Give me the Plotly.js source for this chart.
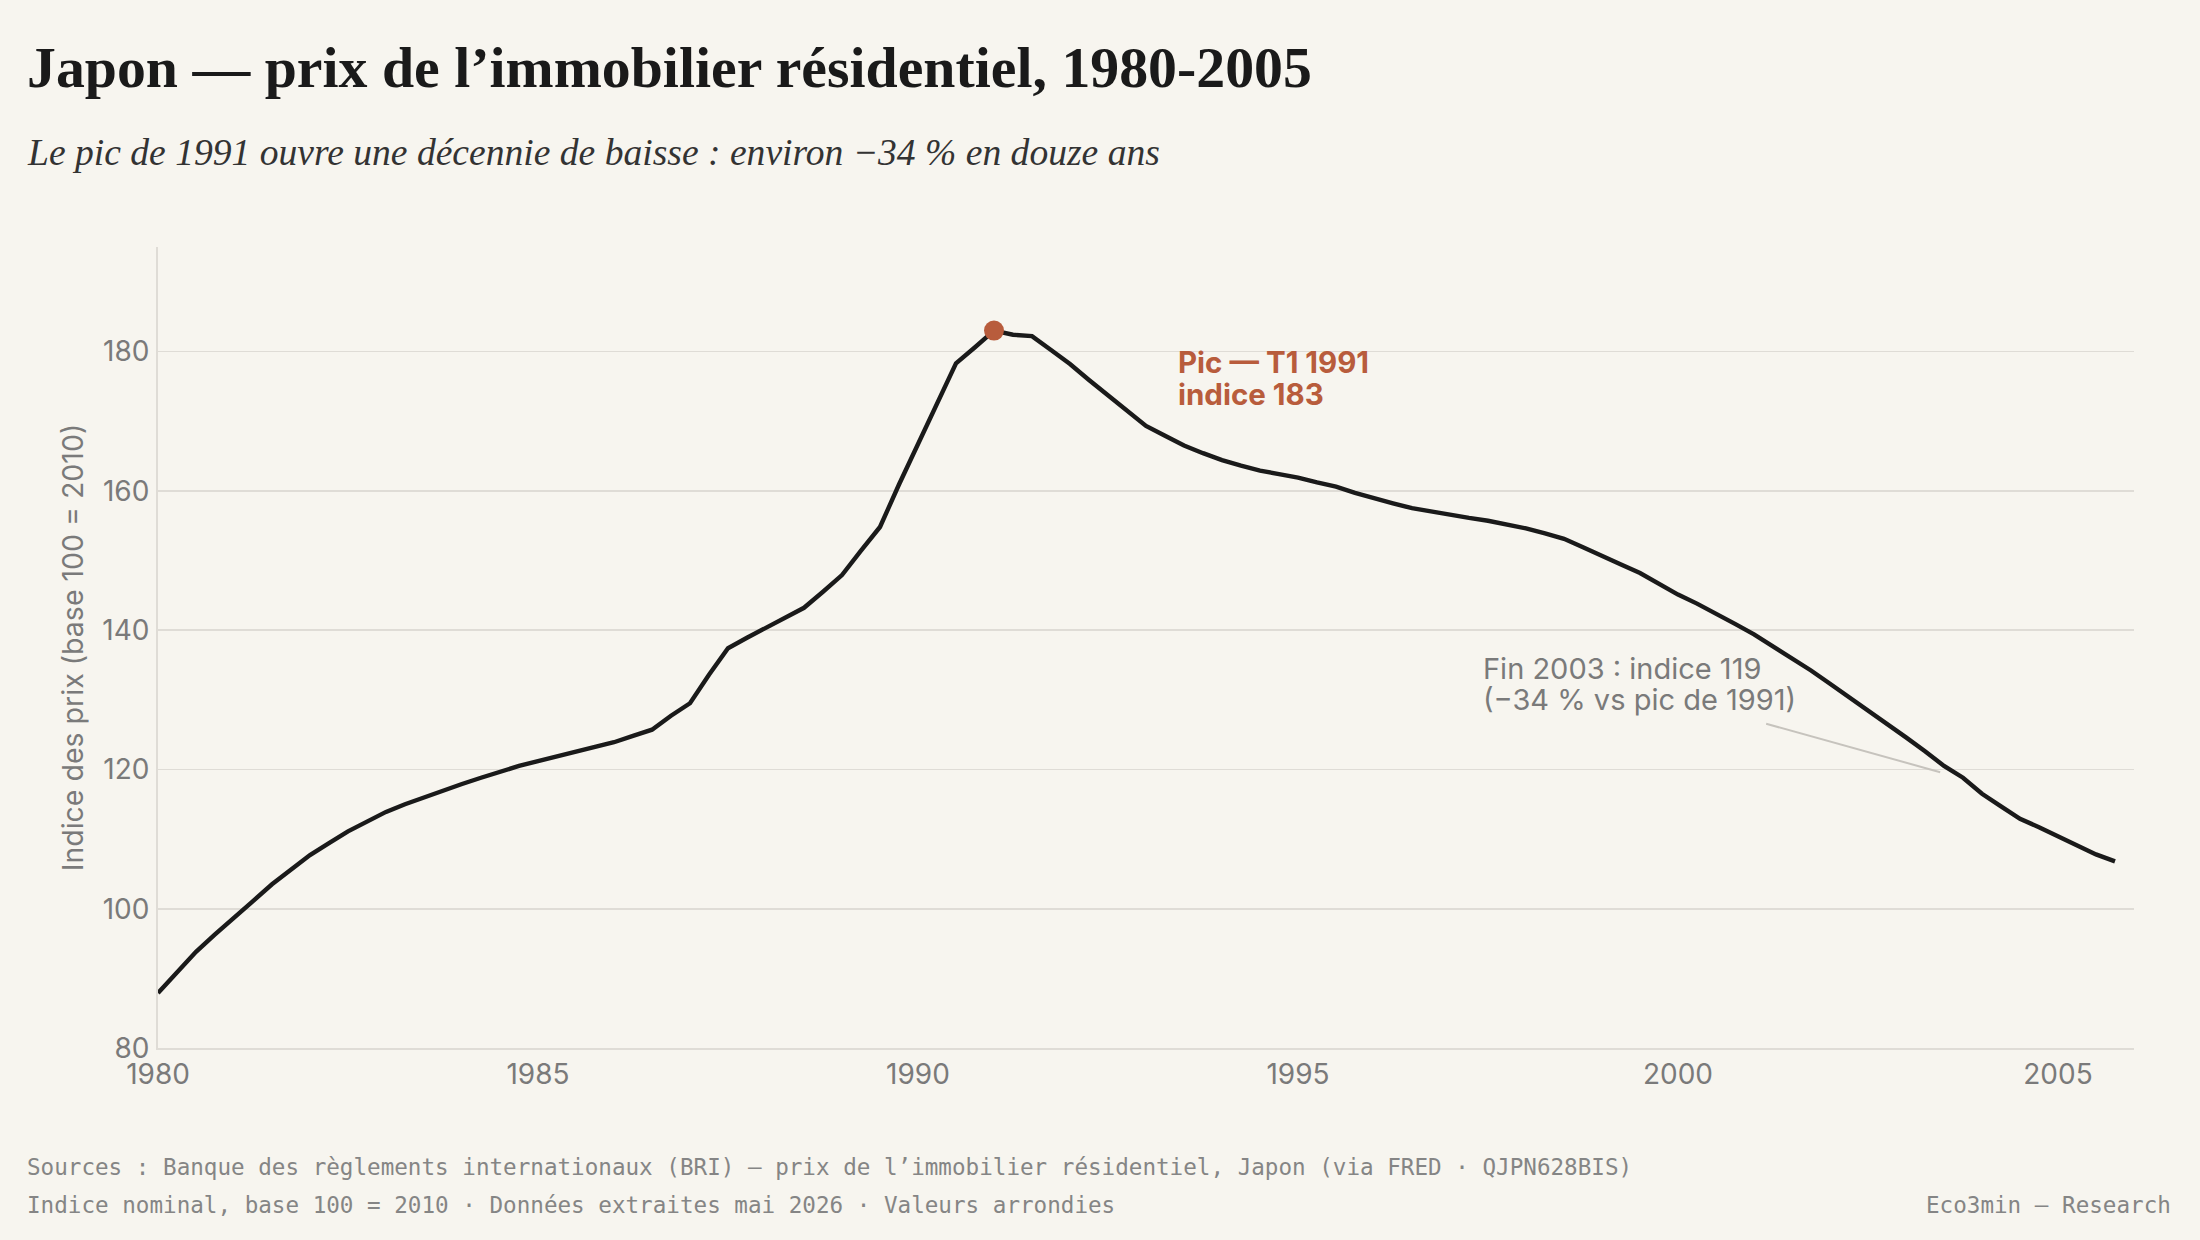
<!DOCTYPE html>
<html lang="fr">
<head>
<meta charset="utf-8">
<script src="https://cdn.plot.ly/plotly-3.0.1.min.js"></script>
<style>
  html, body { margin: 0; padding: 0; background: #F7F5EF; }
  #chart { width: 2200px; height: 1240px; }
</style>
</head>
<body>
<div id="chart"></div>
<script>
// Indice trimestriel des prix de l'immobilier résidentiel, Japon (base 100 = 2010)
const years = [1980, 1981, 1982, 1983, 1984, 1985, 1986, 1987, 1988, 1989, 1990, 1991, 1992,
               1993, 1994, 1995, 1996, 1997, 1998, 1999, 2000, 2001, 2002, 2003, 2004, 2005];
const priceIndex = [
  87.9, 90.8, 93.8, 96.3,      // 1980
  98.8, 101.1, 103.5, 105.6,   // 1981
  107.7, 109.4, 111.1, 112.5,  // 1982
  113.9, 115.0, 116.0, 117.0,  // 1983
  117.9, 118.8, 119.7, 120.5,  // 1984
  121.2, 121.9, 122.5, 123.2,  // 1985
  123.9, 124.8, 125.7, 127.7,  // 1986
  129.5, 133.6, 137.4, 138.9,  // 1987
  140.3, 141.7, 143.2, 145.5,  // 1988
  147.9, 151.4, 154.8, 160.9,  // 1989
  166.7, 172.6, 178.3, 180.6,  // 1990
  183.0, 182.4, 182.2, 180.2,  // 1991
  178.2, 175.9, 173.7, 171.5,  // 1992
  169.3, 167.9, 166.5, 165.4,  // 1993
  164.4, 163.6, 162.9, 162.4,  // 1994
  161.9, 161.2, 160.6, 159.7,  // 1995
  158.9, 158.2, 157.5, 157.0,  // 1996
  156.5, 156.1, 155.7, 155.2,  // 1997
  154.6, 153.9, 153.1, 151.9,  // 1998
  150.6, 149.4, 148.2, 146.7,  // 1999
  145.1, 143.8, 142.4, 140.9,  // 2000
  139.4, 137.7, 136.0, 134.2,  // 2001
  132.3, 130.4, 128.5, 126.6,  // 2002
  124.6, 122.6, 120.5, 118.8,  // 2003
  116.5, 114.7, 112.9, 111.7,  // 2004
  110.4, 109.1, 107.8, 106.8   // 2005
];
const xTicks = [1980, 1985, 1990, 1995, 2000, 2005];
const yTicks = [80, 100, 120, 140, 160, 180];

const titleText = "Japon — prix de l’immobilier résidentiel, 1980-2005";
const subtitleText = "Le pic de 1991 ouvre une décennie de baisse : environ −34 % en douze ans";
const yTitleText = "Indice des prix (base 100 = 2010)";
const peakLines = ["Pic — T1 1991", "indice 183"];
const troughLines = ["Fin 2003 : indice 119", "(−34 % vs pic de 1991)"];
// filet reliant la note « Fin 2003 » à la courbe
const leaderFrom = [2001.16, 126.55];
const leaderTo = [2003.45, 119.6];
const sourceLine1 = "Sources : Banque des règlements internationaux (BRI) — prix de l’immobilier résidentiel, Japon (via FRED · QJPN628BIS)";
const sourceLine2 = "Indice nominal, base 100 = 2010 · Données extraites mai 2026 · Valeurs arrondies";
const brand = "Eco3min — Research";

// trimestres : année + 0, 0.25, 0.5, 0.75
const quarters = [];
years.forEach(y => { for (let q = 0; q < 4; q++) quarters.push(y + q * 0.25); });

let peakIdx = 0;
priceIndex.forEach((v, i) => { if (v > priceIndex[peakIdx]) peakIdx = i; });

// géométrie de la page
const W = 2200, H = 1240;
const M = { l: 158, r: 66, t: 247, b: 192 };
const pw = W - M.l - M.r, ph = H - M.t - M.b;
const px = x => (x - M.l) / pw;
const py = y => (M.t + ph - y) / ph;

const BG = "#F7F5EF";
const INK = "#1a1a1a";
const GREY = "#7a7a7a";
const RUST = "#B85C3C";
const GRID = "#DFDCD6";

const traces = [
  {
    x: quarters, y: priceIndex, type: "scatter", mode: "lines",
    line: { color: INK, width: 4.4 }, hoverinfo: "x+y", showlegend: false
  },
  {
    x: [quarters[peakIdx]], y: [priceIndex[peakIdx]], type: "scatter", mode: "markers",
    marker: { color: RUST, size: 20 }, showlegend: false
  }
];

const sansFont = "Inter, 'Noto Sans', sans-serif";
const serifFont = "'Liberation Serif', 'DejaVu Serif', serif";
const monoFont = "'DejaVu Sans Mono', 'Liberation Mono', monospace";

// une ligne de texte posée en coordonnées de page
function label(text, x, y, font, xanchor) {
  return {
    text: text, xref: "paper", yref: "paper", x: px(x), y: py(y),
    xanchor: xanchor || "left", yanchor: "middle", align: "left", showarrow: false, font: font
  };
}

const peakFont = { family: sansFont, size: 29.5, color: RUST, weight: 600 };
const noteFont = { family: sansFont, size: 29, color: GREY };
const footFont = { family: monoFont, size: 22.6, color: "#858585" };

const layout = {
  width: W, height: H,
  paper_bgcolor: BG, plot_bgcolor: BG,
  margin: M,
  showlegend: false,
  font: { family: sansFont, color: GREY },
  xaxis: {
    range: [1980, 2006], tickvals: xTicks, ticktext: xTicks.map(String),
    showgrid: false, zeroline: false, showline: true, linecolor: GRID, linewidth: 2,
    ticks: "", tickfont: { family: sansFont, size: 28, color: GREY }
  },
  yaxis: {
    range: [80, 195], tickvals: yTicks, ticktext: yTicks.map(String),
    showgrid: true, gridcolor: GRID, gridwidth: 1.6, zeroline: false,
    showline: true, linecolor: GRID, linewidth: 2,
    ticks: "", ticklabelstandoff: 1,
    tickfont: { family: sansFont, size: 28, color: GREY },
    title: { text: yTitleText, font: { family: sansFont, size: 28.5, color: GREY }, standoff: 10 }
  },
  shapes: [
    {
      type: "line", xref: "x", yref: "y",
      x0: leaderFrom[0], y0: leaderFrom[1], x1: leaderTo[0], y1: leaderTo[1],
      line: { color: "#C6C3BD", width: 2 }
    }
  ],
  annotations: [
    label("<b>" + titleText + "</b>", 25, 68, { family: serifFont, size: 57.8, color: INK }),
    label("<i>" + subtitleText + "</i>", 25, 153, { family: serifFont, size: 37.6, color: "#333333" }),
    label("<b>" + peakLines[0] + "</b>", 1176, 362, peakFont),
    label("<b>" + peakLines[1] + "</b>", 1176, 394, peakFont),
    label(troughLines[0], 1481, 668, noteFont),
    label(troughLines[1], 1481, 699, noteFont),
    label(sourceLine1, 25, 1167, footFont),
    label(sourceLine2, 25, 1205, footFont),
    label(brand, 2173, 1205, footFont, "right")
  ]
};

Plotly.newPlot("chart", traces, layout, { displayModeBar: false, staticPlot: true });
</script>
</body>
</html>
